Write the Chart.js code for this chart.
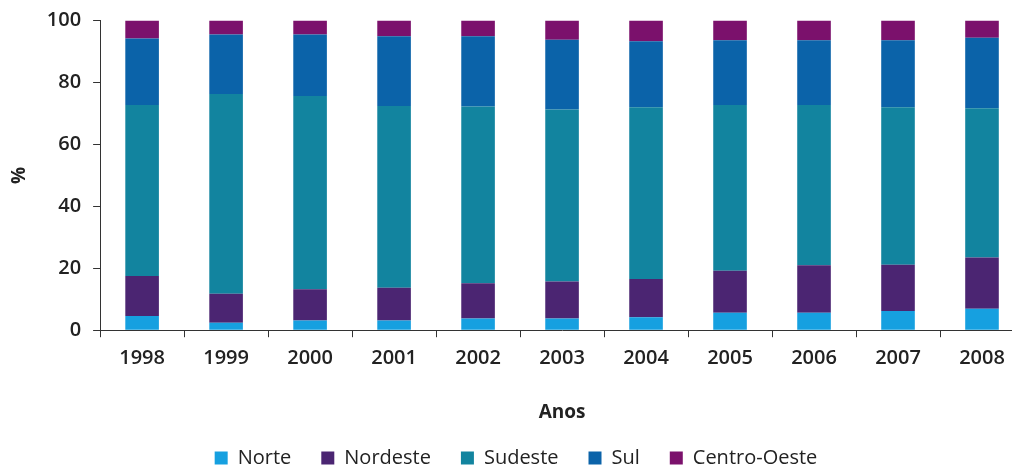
<!DOCTYPE html>
<html>
<head>
<meta charset="utf-8">
<script src="https://cdn.jsdelivr.net/npm/chart.js@4"></script>
<style>
  html, body { margin: 0; padding: 0; background: #fff; overflow: hidden; }
  #wrap { width: 1012px; height: 469px; overflow: hidden; }
</style>
</head>
<body>
<div id="wrap"><canvas id="chart1" width="1024" height="478"></canvas></div>
<script>
const anos = ['1998', '1999', '2000', '2001', '2002', '2003', '2004', '2005', '2006', '2007', '2008'];

// participação (%) de cada região
const norte       = [4.6, 2.4, 3.1, 3.1, 3.8, 3.8, 4.2, 5.6, 5.6, 6.2, 6.9];
const nordeste    = [12.9, 9.4, 10.1, 10.6, 11.4, 11.9, 12.3, 13.6, 15.4, 14.9, 16.6];
const sudeste     = [55.2, 64.5, 62.4, 58.7, 57.0, 55.6, 55.5, 53.5, 51.7, 50.9, 48.2];
const sul         = [21.5, 19.2, 19.9, 22.5, 22.7, 22.5, 21.3, 20.9, 20.9, 21.6, 22.7];
const centroOeste = [5.8, 4.5, 4.5, 5.1, 5.1, 6.2, 6.7, 6.4, 6.4, 6.4, 5.6];

const yTicks = [0, 20, 40, 60, 80, 100];

document.addEventListener('DOMContentLoaded', function() {
  const ctx = document.getElementById('chart1');
  const family = '"Open Sans", "Noto Sans", sans-serif';
  const tickFont = { family: family, size: 20, weight: '600' };
  const titleFont = { family: family, size: 19, weight: 'bold' };

  new Chart(ctx, {
    type: 'bar',
    data: {
      labels: anos,
      datasets: [
        { label: 'Norte', data: norte, backgroundColor: '#16a0e0' },
        { label: 'Nordeste', data: nordeste, backgroundColor: '#4b2572' },
        { label: 'Sudeste', data: sudeste, backgroundColor: '#12849f' },
        { label: 'Sul', data: sul, backgroundColor: '#0b63a9' },
        { label: 'Centro-Oeste', data: centroOeste, backgroundColor: '#7b116c' }
      ]
    },
    options: {
      responsive: false,
      maintainAspectRatio: false,
      animation: false,
      devicePixelRatio: 1,
      datasets: {
        bar: { barPercentage: 0.4, categoryPercentage: 1.0 }
      },
      layout: {
        padding: { left: 8, right: 0, top: 0, bottom: 0 }
      },
      scales: {
        x: {
          stacked: true,
          border: { display: true, color: '#333', width: 1 },
          grid: { display: true, drawOnChartArea: false, offset: true, color: '#333', tickLength: 7 },
          ticks: { color: '#222', font: tickFont, padding: 9 },
          title: { display: true, text: 'Anos', color: '#222', font: titleFont, padding: { top: 22, bottom: -6 } }
        },
        y: {
          stacked: true,
          min: 0,
          max: 100,
          afterBuildTicks: function(axis) {
            axis.ticks = yTicks.map(v => ({ value: v }));
          },
          border: { display: true, color: '#333', width: 1 },
          grid: { display: true, drawOnChartArea: false, color: '#333', tickLength: 7 },
          ticks: { color: '#222', font: { family: family, size: 20, weight: '600', lineHeight: 0.85 }, padding: 12 },
          title: { display: true, text: '%', color: '#222', font: titleFont, padding: { top: 0, bottom: 4 } }
        }
      },
      plugins: {
        tooltip: { enabled: false },
        legend: {
          display: true,
          position: 'bottom',
          labels: {
            color: '#222',
            font: { family: family, size: 20 },
            boxWidth: 13,
            boxHeight: 13,
            padding: 30
          }
        },
        title: { display: false }
      }
    }
  });
});
</script>
</body>
</html>
